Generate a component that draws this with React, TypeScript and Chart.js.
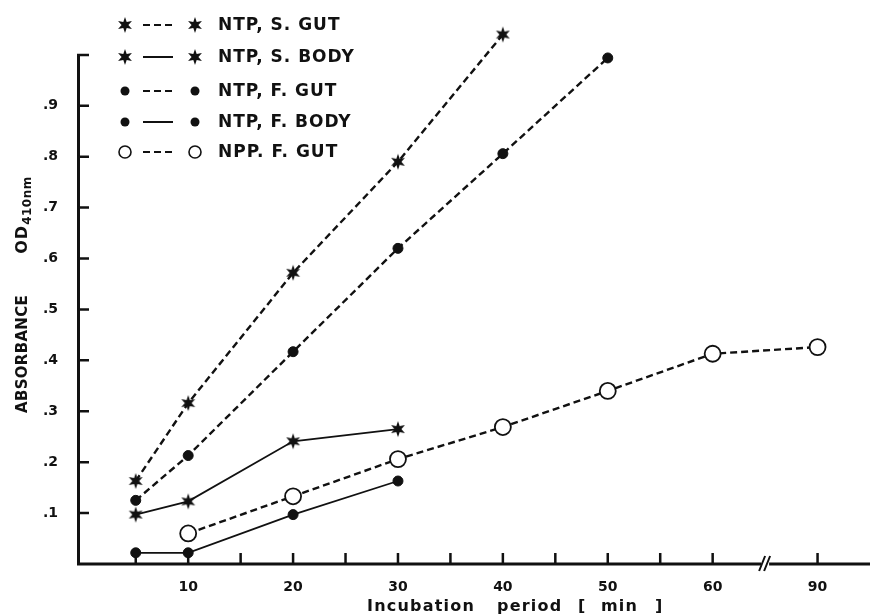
import { useEffect, useRef } from 'react';
import { Chart, registerables } from 'chart.js';

Chart.register(...registerables);

// ---------- data (minutes / absorbance at 410 nm) ----------
const sGutMin = [5, 10, 20, 30, 40];
const sGutOD = [0.163, 0.316, 0.572, 0.79, 1.04];

const sBodyMin = [5, 10, 20, 30];
const sBodyOD = [0.097, 0.123, 0.241, 0.265];

const fGutMin = [5, 10, 20, 30, 40, 50];
const fGutOD = [0.125, 0.213, 0.417, 0.62, 0.806, 0.994];

const fBodyMin = [5, 10, 20, 30];
const fBodyOD = [0.022, 0.022, 0.097, 0.163];

const nppGutMin = [10, 20, 30, 40, 50, 60, 90];
const nppGutOD = [0.06, 0.133, 0.206, 0.269, 0.34, 0.413, 0.426];

const xTickMin = [10, 20, 30, 40, 50, 60, 90];
const xTickLabels = ['10', '20', '30', '40', '50', '60', '90'];
const xMarkMin = [5, 10, 15, 20, 25, 30, 35, 40, 45, 50, 55, 60, 90];

const yTickValues = [0.1, 0.2, 0.3, 0.4, 0.5, 0.6, 0.7, 0.8, 0.9];
const yTickLabels = ['.1', '.2', '.3', '.4', '.5', '.6', '.7', '.8', '.9'];
const yMarkValues = [0.1, 0.2, 0.3, 0.4, 0.5, 0.6, 0.7, 0.8, 0.9, 1.0];

const legendLabels = ['NTP, S. GUT', 'NTP, S. BODY', 'NTP, F. GUT', 'NTP, F. BODY', 'NPP. F. GUT'];

// axis break: beyond 60 min, 30 minutes take the room of 10
const axisPos = (m: number) => (m <= 60 ? m : 60 + (m - 60) / 3);

const INK = '#111';
const FONT = '"DejaVu Sans", "Liberation Sans", sans-serif';

function makeStar(outer: number, inner: number): HTMLCanvasElement {
  const size = Math.ceil(outer * 2 + 2);
  const c = document.createElement('canvas');
  c.width = size;
  c.height = size;
  const ctx = c.getContext('2d')!;
  ctx.translate(size / 2, size / 2);
  ctx.beginPath();
  for (let i = 0; i < 12; i++) {
    const r = i % 2 === 0 ? outer : inner;
    const a = -Math.PI / 2 + (i * Math.PI) / 6;
    const px = r * Math.cos(a);
    const py = r * Math.sin(a);
    if (i === 0) ctx.moveTo(px, py);
    else ctx.lineTo(px, py);
  }
  ctx.closePath();
  ctx.fillStyle = INK;
  ctx.fill();
  return c;
}

export default function App() {
  const ref = useRef<HTMLCanvasElement | null>(null);

  useEffect(() => {
    if (!ref.current) return;
    const star = makeStar(8, 3.4);

    const toPts = (ms: number[], ys: number[]) => ms.map((m, i) => ({ x: axisPos(m), y: ys[i] }));

    const dashed = [7, 4];
    const base = {
      showLine: true,
      borderColor: INK,
      fill: false,
      tension: 0,
      clip: false as any,
    };

    const datasets: any[] = [
      {
        ...base,
        label: legendLabels[0],
        data: toPts(sGutMin, sGutOD),
        borderWidth: 2.4,
        borderDash: dashed,
        pointStyle: star,
        pointRadius: 7,
      },
      {
        ...base,
        label: legendLabels[1],
        data: toPts(sBodyMin, sBodyOD),
        borderWidth: 1.8,
        pointStyle: star,
        pointRadius: 7,
      },
      {
        ...base,
        label: legendLabels[2],
        data: toPts(fGutMin, fGutOD),
        borderWidth: 2.4,
        borderDash: dashed,
        pointStyle: 'circle',
        pointRadius: 5,
        pointBackgroundColor: INK,
        pointBorderColor: INK,
        pointBorderWidth: 1,
      },
      {
        ...base,
        label: legendLabels[3],
        data: toPts(fBodyMin, fBodyOD),
        borderWidth: 1.8,
        pointStyle: 'circle',
        pointRadius: 5,
        pointBackgroundColor: INK,
        pointBorderColor: INK,
        pointBorderWidth: 1,
      },
      {
        ...base,
        label: legendLabels[4],
        data: toPts(nppGutMin, nppGutOD),
        borderWidth: 2.4,
        borderDash: dashed,
        pointStyle: 'circle',
        pointRadius: 8,
        pointBackgroundColor: '#fff',
        pointBorderColor: INK,
        pointBorderWidth: 1.8,
      },
    ];

    const decor = {
      id: 'decor',
      beforeDatasetsDraw(chart: any) {
        const { ctx } = chart;
        const xs = chart.scales.x;
        const ys = chart.scales.y;
        const left = chart.chartArea.left;
        const right = chart.chartArea.right;
        const y0 = ys.getPixelForValue(0);
        const yTop = ys.getPixelForValue(1.0);
        ctx.save();
        ctx.strokeStyle = INK;
        ctx.lineCap = 'butt';
        // axes
        ctx.lineWidth = 3;
        ctx.beginPath();
        ctx.moveTo(left + 1.5, yTop);
        ctx.lineTo(left + 1.5, y0 + 1.5);
        ctx.moveTo(left, y0);
        ctx.lineTo(right, y0);
        ctx.stroke();
        // y ticks
        ctx.lineWidth = 2.5;
        ctx.beginPath();
        for (const v of yMarkValues) {
          const py = ys.getPixelForValue(v);
          ctx.moveTo(left, py);
          ctx.lineTo(left + 12, py);
        }
        // x ticks (pointing up)
        for (const m of xMarkMin) {
          const px = xs.getPixelForValue(axisPos(m));
          ctx.moveTo(px, y0);
          ctx.lineTo(px, y0 - 11);
        }
        ctx.stroke();
        // axis break
        const bx = xs.getPixelForValue(65);
        ctx.fillStyle = '#fff';
        ctx.fillRect(bx - 4, y0 - 2, 8, 4);
        ctx.lineWidth = 2;
        ctx.beginPath();
        ctx.moveTo(bx - 6, y0 + 7);
        ctx.lineTo(bx, y0 - 8);
        ctx.moveTo(bx - 1, y0 + 7);
        ctx.lineTo(bx + 5, y0 - 8);
        ctx.stroke();
        ctx.restore();
      },
      afterDraw(chart: any) {
        const { ctx } = chart;
        ctx.save();
        ctx.fillStyle = INK;
        ctx.strokeStyle = INK;
        // legend
        const rows = [25, 57, 91, 122, 152];
        ctx.font = `bold 17px ${FONT}`;
        (ctx as any).letterSpacing = '1px';
        ctx.textBaseline = 'middle';
        ctx.textAlign = 'left';
        rows.forEach((ry, i) => {
          const ds = datasets[i];
          ctx.lineWidth = 2;
          ctx.setLineDash(ds.borderDash ? [7, 4] : []);
          ctx.beginPath();
          ctx.moveTo(143, ry);
          ctx.lineTo(173, ry);
          ctx.stroke();
          ctx.setLineDash([]);
          for (const mx of [125, 195]) {
            if (i < 2) {
              ctx.drawImage(star, mx - star.width / 2, ry - star.height / 2);
            } else if (i < 4) {
              ctx.beginPath();
              ctx.arc(mx, ry, 4.5, 0, Math.PI * 2);
              ctx.fill();
            } else {
              ctx.beginPath();
              ctx.arc(mx, ry, 6, 0, Math.PI * 2);
              ctx.lineWidth = 1.6;
              ctx.stroke();
            }
          }
          ctx.fillText(legendLabels[i], 218, ry + 1);
        });
        // x axis title
        ctx.font = `bold 16px ${FONT}`;
        (ctx as any).letterSpacing = '1.2px';
        ctx.textBaseline = 'alphabetic';
        const words: [string, number][] = [
          ['Incubation', 367],
          ['period', 497],
          ['[', 578],
          ['min', 601],
          [']', 655],
        ];
        for (const [w, wx] of words) ctx.fillText(w, wx, 611);
        // y axis title (rotated)
        ctx.translate(27, 0);
        ctx.rotate(-Math.PI / 2);
        ctx.font = `bold 15px ${FONT}`;
        (ctx as any).letterSpacing = '0.3px';
        ctx.textAlign = 'center';
        ctx.fillText('ABSORBANCE', -354, 0);
        // OD410nm with subscript
        ctx.textAlign = 'left';
        ctx.font = `bold 16px ${FONT}`;
        (ctx as any).letterSpacing = '1px';
        const odW = ctx.measureText('OD').width;
        ctx.font = `bold 12px ${FONT}`;
        (ctx as any).letterSpacing = '0.5px';
        const subW = ctx.measureText('410nm').width;
        const total = odW + subW;
        const start = -215 - total / 2;
        ctx.font = `bold 16px ${FONT}`;
        (ctx as any).letterSpacing = '1px';
        ctx.fillText('OD', start, 0);
        ctx.font = `bold 12px ${FONT}`;
        (ctx as any).letterSpacing = '0.5px';
        ctx.fillText('410nm', start + odW, 4);
        ctx.restore();
      },
    };

    const chart = new Chart(ref.current, {
      type: 'scatter',
      data: { datasets },
      options: {
        animation: false,
        responsive: false,
        devicePixelRatio: 1,
        layout: { padding: 0, autoPadding: false } as any,
        plugins: { legend: { display: false }, tooltip: { enabled: false } },
        scales: {
          x: {
            type: 'linear',
            min: -0.6,
            max: 75,
            afterFit: (s: any) => {
              s.height = 52;
            },
            afterBuildTicks: (s: any) => {
              s.ticks = xTickMin.map((m) => ({ value: axisPos(m) }));
            },
            ticks: {
              callback: (_v: any, i: number) => xTickLabels[i],
              color: INK,
              font: { family: FONT, size: 14, weight: 'bold' },
              padding: 15,
              maxRotation: 0,
              autoSkip: false,
            },
            grid: { display: false, drawTicks: false },
            border: { display: false },
          },
          y: {
            type: 'linear',
            min: 0,
            max: 1.054,
            afterFit: (s: any) => {
              s.width = 77;
            },
            afterBuildTicks: (s: any) => {
              s.ticks = yTickValues.map((v) => ({ value: v }));
            },
            ticks: {
              callback: (_v: any, i: number) => yTickLabels[i],
              color: INK,
              font: { family: FONT, size: 14, weight: 'bold' },
              padding: 19,
            },
            grid: { display: false, drawTicks: false },
            border: { display: false },
          },
        },
      },
      plugins: [decor],
    });

    return () => chart.destroy();
  }, []);

  return (
    <div style={{ position: 'fixed', left: 0, top: 0, width: 870, height: 616, background: '#fff' }}>
      <canvas ref={ref} width={870} height={616} style={{ display: 'block' }} />
    </div>
  );
}
